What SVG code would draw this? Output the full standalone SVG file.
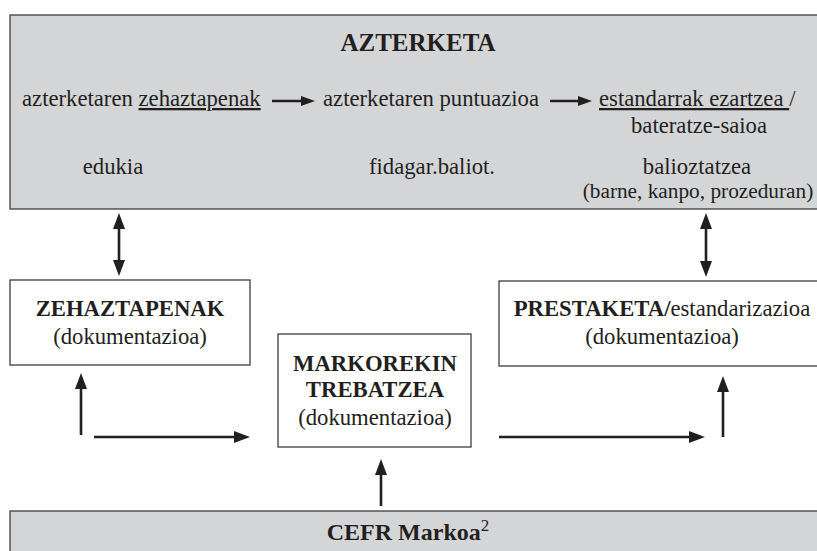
<svg xmlns="http://www.w3.org/2000/svg" width="817" height="551" viewBox="0 0 817 551">
<defs>
<style>
.t{font-family:"Liberation Serif","Times New Roman",serif;font-size:22.7px;fill:#231f20}
.b{font-weight:bold}
.c{text-anchor:middle}
.u{text-decoration:underline}
.gray{fill:#d4d5d7;stroke:#3c3c3c;stroke-width:1.3}
.white{fill:#ffffff;stroke:#3c3c3c;stroke-width:1.3}
.con{stroke:#231f20;stroke-width:2.6;fill:none}
.con2{stroke:#231f20;stroke-width:2.4;fill:none}
</style>
<marker id="ah" viewBox="0 0 16 12" refX="8" refY="6" markerWidth="16" markerHeight="12" markerUnits="userSpaceOnUse" orient="auto-start-reverse">
<path d="M0,0 L16,6 L0,12 z" fill="#231f20"/>
</marker>
<marker id="sh" viewBox="0 0 14 10" refX="6" refY="5" markerWidth="14" markerHeight="10" markerUnits="userSpaceOnUse" orient="auto">
<path d="M0,0 L14,5 L0,10 z" fill="#231f20"/>
</marker>
</defs>
<g id="azterketa">
<rect class="gray" x="10" y="15" width="820" height="194"/>
<text class="t b c" x="418" y="51" style="font-size:25px">AZTERKETA</text>
<text class="t" x="22" y="106">azterketaren <tspan class="u">zehaztapenak</tspan></text>
<text class="t" x="323" y="106">azterketaren puntuazioa</text>
<text class="t" x="599" y="106"><tspan class="u">estandarrak ezartzea </tspan>/</text>
<text class="t c" x="699" y="133">bateratze-saioa</text>
<text class="t c" x="113" y="174">edukia</text>
<text class="t c" x="432" y="174">fidagar.baliot.</text>
<text class="t c" x="697" y="174">balioztatzea</text>
<text class="t c" x="698" y="198" style="font-size:21.3px">(barne, kanpo, prozeduran)</text>
<line class="con2" x1="272" y1="101" x2="307" y2="101" marker-end="url(#sh)"/>
<line class="con2" x1="550" y1="101" x2="584" y2="101" marker-end="url(#sh)"/>
</g>
<g id="zehaztapenak">
<rect class="white" x="10" y="280" width="240" height="85"/>
<text class="t b c" x="130" y="316">ZEHAZTAPENAK</text>
<text class="t c" x="130" y="344">(dokumentazioa)</text>
</g>
<g id="markorekin">
<rect class="white" x="278" y="334" width="193" height="113"/>
<text class="t b c" x="375" y="371">MARKOREKIN</text>
<text class="t b c" x="375" y="397">TREBATZEA</text>
<text class="t c" x="375" y="425">(dokumentazioa)</text>
</g>
<g id="prestaketa">
<rect class="white" x="499" y="281" width="330" height="85"/>
<text class="t c" x="662" y="316"><tspan class="b">PRESTAKETA/</tspan>estandarizazioa</text>
<text class="t c" x="662" y="344">(dokumentazioa)</text>
</g>
<g id="cefr">
<rect class="gray" x="10" y="511" width="820" height="60"/>
<text class="t c" x="408" y="540"><tspan class="b" style="font-size:24px">CEFR Markoa</tspan><tspan dy="-9" style="font-size:17px">2</tspan></text>
</g>
<g id="connectors">
<line class="con" x1="119" y1="221" x2="119" y2="268" marker-start="url(#ah)" marker-end="url(#ah)"/>
<line class="con" x1="706" y1="221" x2="706" y2="269" marker-start="url(#ah)" marker-end="url(#ah)"/>
<line class="con" x1="81" y1="435" x2="81" y2="381" marker-end="url(#ah)"/>
<line class="con" x1="94" y1="437" x2="242" y2="437" marker-end="url(#ah)"/>
<line class="con" x1="381" y1="506" x2="381" y2="467" marker-end="url(#ah)"/>
<line class="con" x1="499" y1="437" x2="697" y2="437" marker-end="url(#ah)"/>
<line class="con" x1="723" y1="437" x2="723" y2="384" marker-end="url(#ah)"/>
</g>
</svg>
